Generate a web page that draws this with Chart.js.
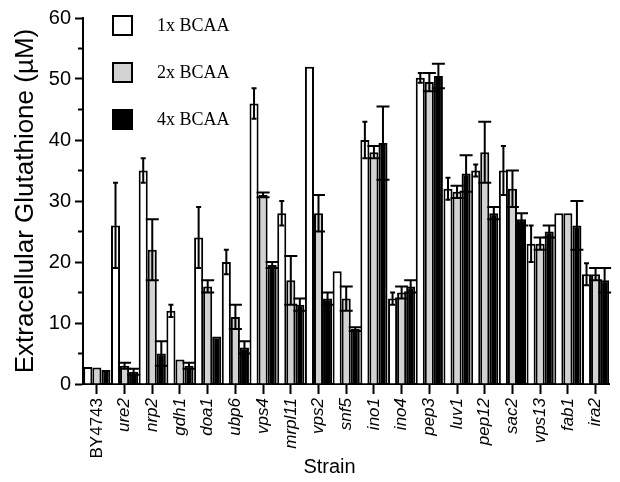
<!DOCTYPE html>
<html>
<head>
<meta charset="utf-8">
<script src="https://cdn.jsdelivr.net/npm/chart.js@4.4.1/dist/chart.umd.min.js"></script>
<style>
  html, body { margin: 0; padding: 0; background: #fff; }
</style>
</head>
<body>
<canvas id="glutChart" width="620" height="482"></canvas>
<script>
var strains = ['BY4743', 'ure2', 'nrp2', 'gdh1', 'doa1', 'ubp6', 'vps4', 'mrpl11', 'vps2', 'snf5',
               'ino1', 'ino4', 'pep3', 'luv1', 'pep12', 'sac2', 'vps13', 'fab1', 'ira2'];

var bcaa1    = [2.8, 26, 35, 12, 24, 20, 46, 28, 52, 18.5, 40, 14, 50.2, 32, 35, 35, 23, 28, 18];
var bcaa1Err = [0,   7,  2,  1,  5,  2, 2.5, 2,  0,  0,    3,  1, 0.8,  1.8, 1, 4,  3,  0,  1.8];

var bcaa2    = [2.7, 3,  22, 4,  16, 11, 31, 17, 28, 14, 38, 15, 49.5, 31.5, 38, 32, 23, 28, 18];
var bcaa2Err = [0,   0.5, 5, 0,  1,  2, 0.4, 4,  3,  2,  1,  1,  1.5,  1,    5,  3,  1,  0,  1];

var bcaa4    = [2.3, 2,  5,  3,  7.8, 6, 19.5, 13, 14, 9,  39.5, 16, 50.5, 34.5, 28, 27, 25, 26, 17];
var bcaa4Err = [0,   0.5, 2, 0.5, 0,  1, 0.5,  1,  1,  0.3, 6,   1,  2,    3,    1,  1,  1,  4,  2];

var yTicks = [0, 10, 20, 30, 40, 50, 60];

var errors = [bcaa1Err, bcaa2Err, bcaa4Err];
var capWidths = [5, 13, 13];

// error bars + minor y ticks + legend
var extrasPlugin = {
    id: 'extras',
    afterDatasetsDraw: function(chart) {
        var ctx = chart.ctx;
        var y = chart.scales.y;
        ctx.save();
        ctx.strokeStyle = '#000';
        ctx.lineWidth = 2;
        chart.data.datasets.forEach(function(ds, i) {
            var meta = chart.getDatasetMeta(i);
            meta.data.forEach(function(bar, j) {
                var e = errors[i][j];
                if (!e) return;
                var top = y.getPixelForValue(ds.data[j] + e);
                var bot = y.getPixelForValue(ds.data[j] - e);
                var hw = capWidths[i] / 2;
                ctx.beginPath();
                ctx.moveTo(bar.x, top); ctx.lineTo(bar.x, bot);
                ctx.moveTo(bar.x - hw, top); ctx.lineTo(bar.x + hw, top);
                ctx.moveTo(bar.x - hw, bot); ctx.lineTo(bar.x + hw, bot);
                ctx.stroke();
            });
        });
        ctx.restore();
    },
    afterDraw: function(chart) {
        var ctx = chart.ctx;
        var y = chart.scales.y;
        var left = chart.chartArea.left;
        ctx.save();
        ctx.strokeStyle = '#000';
        ctx.lineWidth = 2;
        for (var k = 0; k < yTicks.length - 1; k++) {
            var py = y.getPixelForValue((yTicks[k] + yTicks[k + 1]) / 2);
            ctx.beginPath();
            ctx.moveTo(left - 5, py); ctx.lineTo(left, py);
            ctx.stroke();
        }
        // legend
        ctx.font = '18px "Liberation Serif", "Times New Roman", serif';
        ctx.textBaseline = 'middle';
        chart.data.datasets.forEach(function(ds, i) {
            var bx = 112, by = 15 + i * 47;
            ctx.fillStyle = ds.backgroundColor;
            ctx.fillRect(bx, by, 21, 21);
            ctx.strokeRect(bx + 1, by + 1, 19, 19);
            ctx.fillStyle = '#000';
            ctx.fillText(ds.label, 157, by + 11);
        });
        ctx.restore();
    }
};

var ctx = document.getElementById('glutChart');
var myChart = new Chart(ctx, {
    type: 'bar',
    data: {
        labels: strains,
        datasets: [{
            label: '1x BCAA',
            data: bcaa1,
            backgroundColor: '#ffffff',
            borderColor: '#000',
            borderWidth: 2,
        }, {
            label: '2x BCAA',
            data: bcaa2,
            backgroundColor: '#d2d2d2',
            borderColor: '#000',
            borderWidth: 2,
        }, {
            label: '4x BCAA',
            data: bcaa4,
            backgroundColor: '#000000',
            borderColor: '#000',
            borderWidth: 2,
        }],
    },
    options: {
        responsive: false,
        animation: false,
        layout: { padding: { left: 0, top: 18, right: 1, bottom: 0 } },
        datasets: { bar: { categoryPercentage: 0.98, barPercentage: 1.0 } },
        plugins: {
            legend: { display: false },
            tooltip: { enabled: false },
        },
        scales: {
            x: {
                afterFit: function(scale) { scale.height = 98; },
                grid: { display: true, drawOnChartArea: false, offset: false,
                        tickLength: 10, tickWidth: 2, tickColor: '#000' },
                border: { display: true, color: '#000', width: 2 },
                ticks: {
                    autoSkip: false,
                    minRotation: 90,
                    maxRotation: 90,
                    padding: 4,
                    color: '#000',
                    font: function(c) {
                        return { family: '"Liberation Sans", Arial, sans-serif', size: 17,
                                 style: c.index === 0 ? 'normal' : 'italic' };
                    },
                },
                title: {
                    display: true,
                    text: 'Strain      ',
                    color: '#000',
                    font: { family: '"Liberation Sans", Arial, sans-serif', size: 20 },
                    padding: { top: 0, bottom: 3 },
                },
            },
            y: {
                min: 0,
                max: 60,
                afterFit: function(scale) { scale.width = 83; },
                grid: { display: true, drawOnChartArea: false,
                        tickLength: 8, tickWidth: 2, tickColor: '#000' },
                border: { display: true, color: '#000', width: 2 },
                ticks: {
                    stepSize: 10,
                    padding: 4,
                    color: '#000',
                    font: { family: '"Liberation Sans", Arial, sans-serif', size: 20 },
                },
                title: {
                    display: true,
                    text: 'Extracellular Glutathione (\u00b5M)',
                    color: '#000',
                    font: { family: '"Liberation Sans", Arial, sans-serif', size: 26 },
                    padding: { top: 10, bottom: 0 },
                },
            },
        },
    },
    plugins: [extrasPlugin],
});
</script>
</body>
</html>
